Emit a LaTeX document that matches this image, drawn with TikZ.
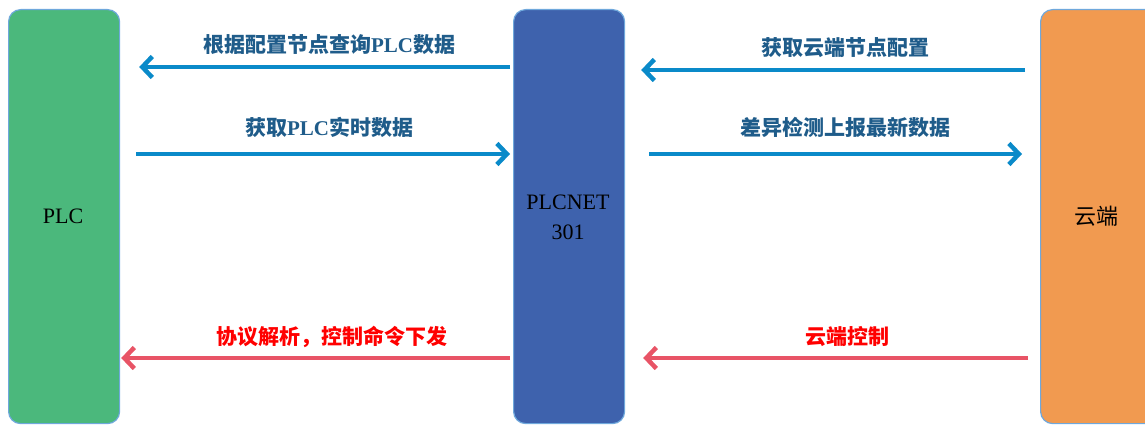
\documentclass[tikz,border=0pt]{standalone}
\usepackage{fontspec}
\setmainfont{Liberation Serif}
\newfontfamily\cjk{Noto Sans CJK SC}
\usetikzlibrary{arrows.meta}
\definecolor{plcgreen}{HTML}{4BB87C}
\definecolor{netblue}{HTML}{3E62AD}
\definecolor{cloudorange}{HTML}{F19A50}
\definecolor{edgeblue}{HTML}{6FA8DC}
\definecolor{arrowblue}{HTML}{0A8AC9}
\definecolor{arrowred}{HTML}{E85466}
\definecolor{textblue}{HTML}{1F5C8A}
\definecolor{textred}{HTML}{FF0000}
\newcommand{\lt}[1]{{\rmfamily\bfseries #1}}
\tikzset{
  column/.style={draw=edgeblue, line width=1.2pt, rounded corners=12pt, anchor=north west, inner sep=0pt},
  blueflow/.style={draw=arrowblue, line width=4.5pt, -{Straight Barb[length=10pt,width=21pt]}},
  redflow/.style={draw=arrowred, line width=4.5pt, -{Straight Barb[length=10pt,width=21pt]}},
  bluelabel/.style={text=textblue, font=\cjk\bfseries\fontsize{21}{25}\selectfont, inner sep=0pt},
  redlabel/.style={text=textred, font=\cjk\bfseries\fontsize{21}{25}\selectfont, inner sep=0pt},
  boxlabel/.style={text=black, font=\fontsize{22}{30}\selectfont, align=center, inner sep=0pt}
}
\begin{document}
\begin{tikzpicture}[x=1pt,y=-1pt]
\useasboundingbox (0,0) rectangle (1145,425);
\clip (0,0) rectangle (1145,425);
% columns
\node[column, fill=plcgreen, minimum width=111pt, minimum height=414pt] (plc) at (8,9) {};
\node[column, fill=netblue, minimum width=111pt, minimum height=414pt] (net) at (513,9) {};
\node[column, fill=cloudorange, minimum width=130pt, minimum height=414pt] (cloud) at (1040,9) {};
% column labels
\node[boxlabel] (plct) at (63,216) {PLC};
\node[boxlabel] (nett) at (568,217) {PLCNET\\301};
\node[boxlabel, font=\cjk\fontsize{22}{26}\selectfont] (cloudt) at (1096,216) {云端};
% left arrows
\draw[blueflow, shorten <=3pt, shorten >=19pt] (net.west |- 0,67) -- (plc.east |- 0,67);
\draw[blueflow, shorten <=16pt, shorten >=3pt] (plc.east |- 0,154) -- (net.west |- 0,154);
\draw[redflow, shorten <=3pt, shorten >=1pt] (net.west |- 0,358) -- (plc.east |- 0,358);
% right arrows
\draw[blueflow, shorten <=15pt, shorten >=16pt] (cloud.west |- 0,70) -- (net.east |- 0,70);
\draw[blueflow, shorten <=24pt, shorten >=18pt] (net.east |- 0,154) -- (cloud.west |- 0,154);
\draw[redflow, shorten <=12pt, shorten >=18pt] (cloud.west |- 0,358) -- (net.east |- 0,358);
% labels
\node[bluelabel] (l1) at (329,45) {根据配置节点查询\lt{PLC}数据};
\node[bluelabel] (l2) at (329,127) {获取\lt{PLC}实时数据};
\node[redlabel] (l3) at (332,337) {协议解析，控制命令下发};
\node[bluelabel] (l4) at (845,48) {获取云端节点配置};
\node[bluelabel] (l5) at (845,127) {差异检测上报最新数据};
\node[redlabel] (l6) at (847,337) {云端控制};
\end{tikzpicture}
\end{document}
